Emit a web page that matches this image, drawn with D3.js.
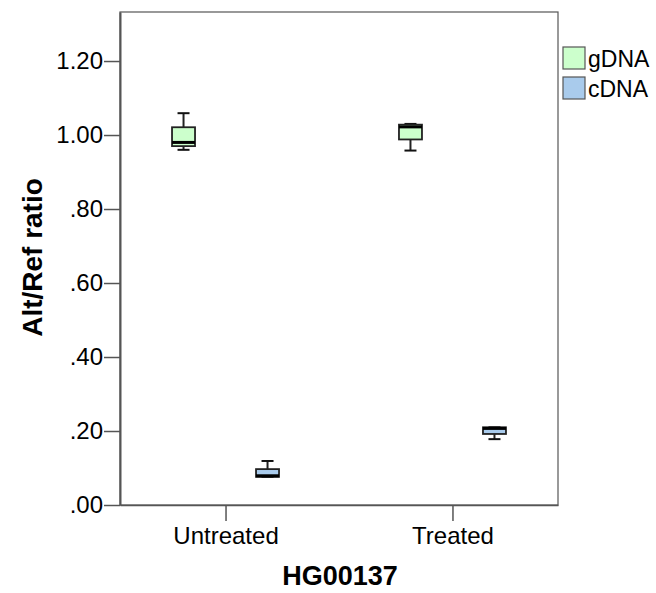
<!DOCTYPE html>
<html>
<head>
<meta charset="utf-8">
<script src="https://cdn.jsdelivr.net/npm/d3@7"></script>
<style>
  html, body { margin: 0; padding: 0; background: #fff; }
  svg { display: block; font-family: "Liberation Sans", Arial, sans-serif; }
</style>
</head>
<body>
<svg id="chart" width="656" height="593"></svg>
<script>
// Groups on the x axis and the two clustered series
const groups = ["Untreated", "Treated"];
const seriesNames = ["gDNA", "cDNA"];
const seriesColors = ["#ccffcc", "#a9cbec"];

// Box statistics per series, one entry per group: [whiskerLow, q1, median, q3, whiskerHigh]
const gDNA = [
  [0.960, 0.970, 0.980, 1.021, 1.059],
  [0.958, 0.988, 1.022, 1.028, 1.030]
];
const cDNA = [
  [0.076, 0.076, 0.079, 0.097, 0.119],
  [0.178, 0.192, 0.207, 0.210, 0.210]
];

const yTicks = [0, 0.2, 0.4, 0.6, 0.8, 1.0, 1.2];
const yTickLabels = [".00", ".20", ".40", ".60", ".80", "1.00", "1.20"];

const margin = { left: 120, top: 12, right: 98, bottom: 88 };
const W = 656, H = 593;
const x0 = margin.left, x1 = W - margin.right;
const y0 = H - margin.bottom, y1 = margin.top;

const svg = d3.select("#chart");

const y = d3.scaleLinear().domain([0, 1.3325]).range([y0, y1]);
const x = d3.scalePoint().domain(groups).range([x0, x1]).padding(0.465);
const inner = d3.scaleBand().domain(seriesNames).range([-84, 84]);
const boxW = 23;
const capW = 12;

const frameColor = "#555";

// Plot frame
svg.append("rect")
  .attr("x", x0).attr("y", y1)
  .attr("width", x1 - x0).attr("height", y0 - y1)
  .attr("fill", "none").attr("stroke", frameColor).attr("stroke-width", 1.2);

// Y axis
const yAxis = svg.append("g")
  .attr("transform", `translate(${x0},0)`)
  .call(d3.axisLeft(y).tickValues(yTicks)
    .tickFormat((d, i) => yTickLabels[i]).tickSize(16).tickSizeOuter(0).tickPadding(1));
yAxis.select(".domain").attr("stroke", frameColor).attr("stroke-width", 2);
yAxis.selectAll(".tick line").attr("stroke", frameColor).attr("stroke-width", 1.5);
yAxis.selectAll(".tick text")
  .attr("fill", "#000").attr("font-size", 24).attr("font-family", "Liberation Sans, Arial, sans-serif");

// X axis
const xAxis = svg.append("g")
  .attr("transform", `translate(0,${y0})`)
  .call(d3.axisBottom(x).tickSize(16).tickSizeOuter(0).tickPadding(6));
xAxis.select(".domain").attr("stroke", frameColor).attr("stroke-width", 1.5);
xAxis.selectAll(".tick line").attr("stroke", frameColor).attr("stroke-width", 1.5);
xAxis.selectAll(".tick text")
  .attr("fill", "#000").attr("font-size", 24).attr("font-family", "Liberation Sans, Arial, sans-serif");

// Axis titles
svg.append("text")
  .attr("x", (x0 + x1) / 2 + 1).attr("y", 585)
  .attr("text-anchor", "middle")
  .attr("font-weight", "bold").attr("font-size", 27)
  .text("HG00137");

svg.append("text")
  .attr("transform", `translate(42,${(y0 + y1) / 2 - 1})rotate(-90)`)
  .attr("text-anchor", "middle")
  .attr("font-weight", "bold").attr("font-size", 28)
  .text("Alt/Ref ratio");

// Boxes
const seriesData = [gDNA, cDNA];
seriesData.forEach((rows, si) => {
  rows.forEach((s, gi) => {
    const cx = x(groups[gi]) + inner(seriesNames[si]) + inner.bandwidth() / 2;
    const [lo, q1, med, q3, hi] = s;
    const g = svg.append("g");
    // whiskers
    if (hi > q3) {
      g.append("line").attr("x1", cx).attr("x2", cx).attr("y1", y(q3)).attr("y2", y(hi))
        .attr("stroke", "#222").attr("stroke-width", 2);
    }
    if (lo < q1) {
      g.append("line").attr("x1", cx).attr("x2", cx).attr("y1", y(q1)).attr("y2", y(lo))
        .attr("stroke", "#222").attr("stroke-width", 2);
    }
    [lo, hi].forEach(v => {
      g.append("line").attr("x1", cx - capW / 2).attr("x2", cx + capW / 2)
        .attr("y1", y(v)).attr("y2", y(v))
        .attr("stroke", "#111").attr("stroke-width", 2);
    });
    // box
    g.append("rect")
      .attr("x", cx - boxW / 2).attr("y", y(q3))
      .attr("width", boxW).attr("height", Math.max(0, y(q1) - y(q3)))
      .attr("fill", seriesColors[si]).attr("stroke", "#222").attr("stroke-width", 1.8);
    // median
    g.append("line")
      .attr("x1", cx - boxW / 2).attr("x2", cx + boxW / 2)
      .attr("y1", y(med)).attr("y2", y(med))
      .attr("stroke", "#000").attr("stroke-width", 3);
  });
});

// Legend
const legend = svg.append("g").attr("transform", "translate(563,47)");
seriesNames.forEach((name, i) => {
  const row = legend.append("g").attr("transform", `translate(0,${i * 30})`);
  row.append("rect").attr("width", 22).attr("height", 22)
    .attr("fill", seriesColors[i]).attr("stroke", "#555").attr("stroke-width", 1.2);
  row.append("text").attr("x", 25).attr("y", 20)
    .attr("font-size", 23).attr("fill", "#000").text(name);
});
</script>
</body>
</html>
